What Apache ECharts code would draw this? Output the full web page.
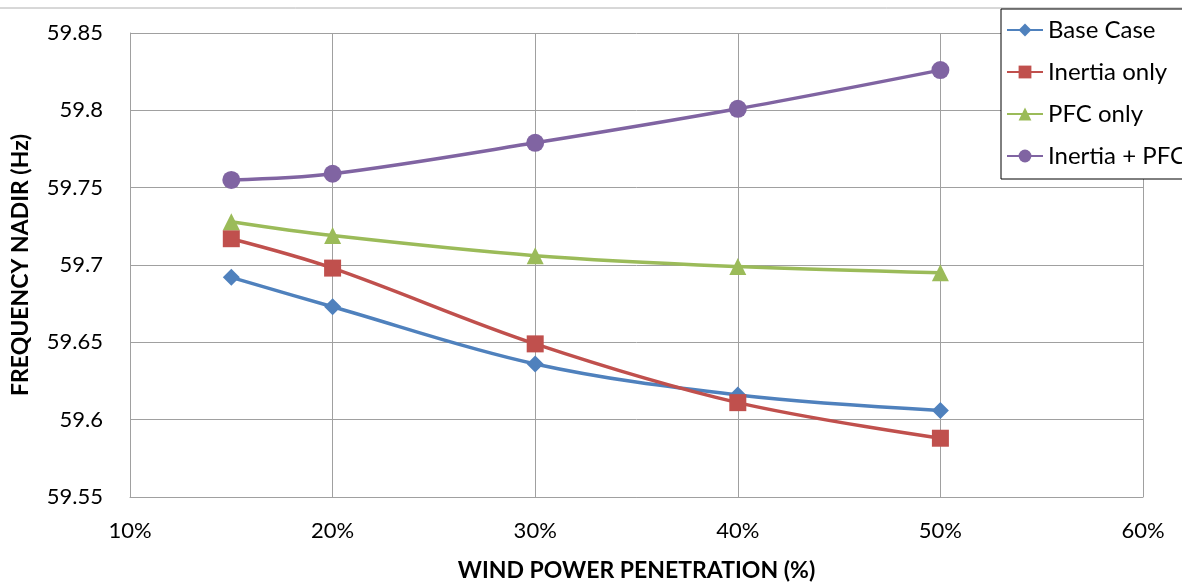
<!DOCTYPE html>
<html>
<head>
<meta charset="utf-8">
<script src="https://cdn.jsdelivr.net/npm/echarts@6/dist/echarts.min.js"></script>
<style>
html,body{margin:0;padding:0;background:#fff;}
#chart{width:1182px;height:584px;}
</style>
</head>
<body>
<div id="chart"></div>
<script>
const penetration = [15, 20, 30, 40, 50];
const baseCase = [59.692, 59.673, 59.636, 59.616, 59.606];
const inertiaOnly = [59.717, 59.698, 59.649, 59.611, 59.588];
const pfcOnly = [59.728, 59.719, 59.706, 59.699, 59.695];
const inertiaPfc = [59.755, 59.759, 59.779, 59.801, 59.826];
const seriesNames = ['Base Case', 'Inertia only', 'PFC only', 'Inertia + PFC'];
const xTitle = 'WIND POWER PENETRATION (%)';
const yTitle = 'FREQUENCY NADIR (Hz)';

const FONT = 'Lato';
const colors = ['#4F81BD', '#C0504D', '#9BBB59', '#8064A2'];
const symbols = ['diamond', 'rect', 'triangle', 'circle'];
const sizes = [17, 17, 17, 18];
const allData = [baseCase, inertiaOnly, pfcOnly, inertiaPfc];

const chart = echarts.init(document.getElementById('chart'));
chart.setOption({
  animation: false,
  backgroundColor: '#fff',
  grid: {left: 130, right: 39, top: 33, bottom: 87, containLabel: false, outerBoundsMode: 'none'},
  graphic: [{
    type: 'line', shape: {x1: 0, y1: 8, x2: 1182, y2: 8},
    style: {stroke: '#b0b0b0', lineWidth: 1}, z: 0
  }],
  xAxis: {
    type: 'value', min: 10, max: 60, interval: 10,
    name: xTitle, nameLocation: 'middle', nameGap: 62,
    nameTextStyle: {fontFamily: FONT, fontWeight: 'bold', fontSize: 23, color: '#000'},
    axisLine: {show: true, lineStyle: {color: '#a0a0a0', width: 1}},
    axisTick: {show: false},
    splitLine: {show: true, lineStyle: {color: '#a0a0a0', width: 1}},
    axisLabel: {formatter: '{value}%', fontFamily: FONT, fontSize: 22, color: '#000', margin: 23}
  },
  yAxis: {
    type: 'value', min: 59.55, max: 59.85, interval: 0.05,
    name: yTitle, nameLocation: 'middle', nameGap: 98, nameRotate: 90,
    nameTextStyle: {fontFamily: FONT, fontWeight: 'bold', fontSize: 23, color: '#000'},
    axisLine: {show: true, lineStyle: {color: '#a0a0a0', width: 1}},
    axisTick: {show: false},
    splitLine: {show: true, lineStyle: {color: '#a0a0a0', width: 1}},
    axisLabel: {
      fontFamily: FONT, fontSize: 22, color: '#000', margin: 27,
      formatter: v => String(parseFloat(v.toFixed(2)))
    }
  },
  legend: {
    orient: 'vertical', left: 1001, top: 9,
    padding: [9, 60, 11, 5], itemGap: 18, itemWidth: 36, itemHeight: 16,
    borderColor: '#000', borderWidth: 1, backgroundColor: '#fff',
    textStyle: {fontFamily: FONT, fontSize: 24, color: '#000', lineHeight: 24},
    data: seriesNames
  },
  series: seriesNames.map((name, i) => ({
    name: name, type: 'line', smooth: 0.35,
    data: penetration.map((x, j) => [x, allData[i][j]]),
    symbol: symbols[i], symbolSize: sizes[i],
    showAllSymbol: true,
    lineStyle: {color: colors[i], width: 3.5},
    itemStyle: {color: colors[i], borderWidth: 0},
    z: 3
  }))
});
</script>
</body>
</html>
